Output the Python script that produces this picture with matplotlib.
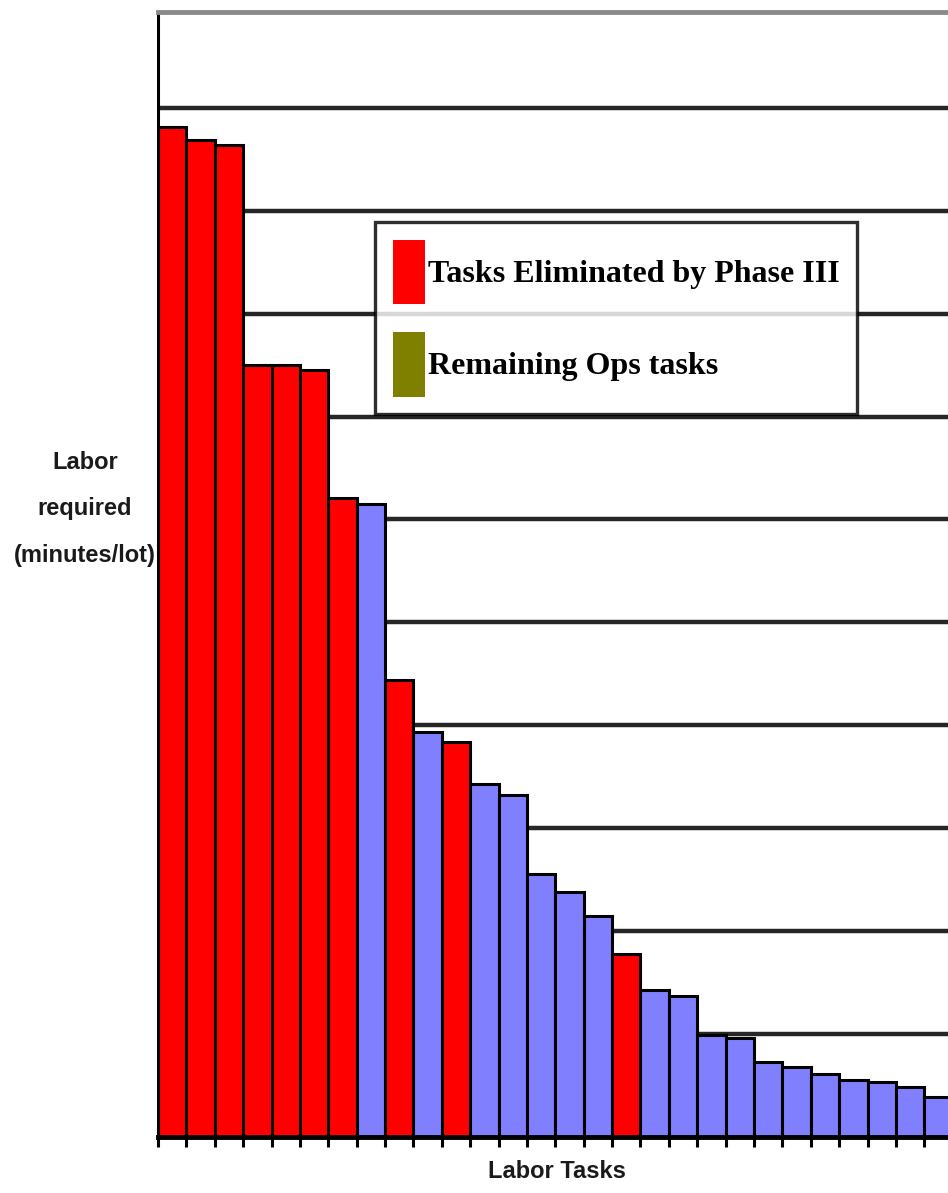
import matplotlib
matplotlib.use("Agg")
import matplotlib.pyplot as plt
import matplotlib.font_manager as fm
from matplotlib.patches import Patch

# labor per task (minutes/lot), sorted high to low
labor_minutes = [9.81, 9.69, 9.64, 7.50, 7.50, 7.45, 6.21, 6.15, 4.44, 3.93,
                 3.84, 3.43, 3.32, 2.56, 2.38, 2.15, 1.78, 1.43, 1.37, 0.99,
                 0.96, 0.73, 0.68, 0.61, 0.55, 0.53, 0.49, 0.39]
# True = task eliminated by Phase III
eliminated = [True, True, True, True, True, True, True, False, True, False,
              True, False, False, False, False, False, True, False, False, False,
              False, False, False, False, False, False, False, False]
legend_labels = ["Tasks Eliminated by Phase III", "Remaining Ops tasks"]
legend_colors = ["#ff0000", "#808000"]

RED = "#ff0000"
BLUE = "#8080ff"

names = {f.name for f in fm.fontManager.ttflist}
if "Liberation Sans Narrow" in names:
    sans = ["Liberation Sans Narrow", "DejaVu Sans"]
    lab_size = 20.5
else:
    sans = ["Liberation Sans", "DejaVu Sans"]
    lab_size = 17

W, H = 948, 1193
fig = plt.figure(figsize=(W / 100, H / 100), dpi=100)

# axes runs past the right edge of the figure
n_slots = 30
ax = fig.add_axes([158 / W, (H - 1137) / H, n_slots * 28.38 / W, (1137 - 12) / H])

x = list(range(len(labor_minutes)))
colors = [RED if e else BLUE for e in eliminated]
ax.bar(x, labor_minutes, width=1.0, align="edge", color=colors,
       edgecolor="black", linewidth=2.2, zorder=2)

ax.set_xlim(0, n_slots)
ax.set_ylim(0, 10.93)
ax.set_yticks(range(0, 11))
ax.set_xticks(range(0, n_slots + 1))
ax.tick_params(axis="y", left=False, labelleft=False)
ax.tick_params(axis="x", direction="out", length=7, width=2.2, color="black",
               labelbottom=False)
ax.set_axisbelow(True)
ax.grid(axis="y", color="#262626", linewidth=3.2)

ax.spines["right"].set_visible(False)
ax.spines["top"].set_color("#8a8a8a")
ax.spines["top"].set_linewidth(3.5)
ax.spines["left"].set_linewidth(2.2)
ax.spines["bottom"].set_linewidth(3.5)

handles = [Patch(facecolor=c, edgecolor="none") for c in legend_colors]
leg = ax.legend(handles, legend_labels, loc="upper left",
                bbox_to_anchor=(375 / W, 1 - 222 / H), bbox_transform=fig.transFigure,
                borderaxespad=0, fancybox=False, framealpha=0.82,
                prop=fm.FontProperties(family="Liberation Serif", weight="bold", size=23),
                handlelength=1.0, handleheight=2.75, handletextpad=0.1,
                labelspacing=0.85, borderpad=0.55)
leg.get_frame().set_edgecolor("black")
leg.get_frame().set_linewidth(2.4)

fig.text(85 / W, 1 - 509 / H, "Labor\nrequired\n(minutes/lot)", ha="center",
         va="center", family=sans, weight="bold", size=lab_size, linespacing=2.3,
         color="#1a1a1a")
fig.text(557 / W, 1 - 1171 / H, "Labor Tasks", ha="center", va="center",
         family=sans, weight="bold", size=lab_size, color="#1a1a1a")

fig.savefig("out.png", dpi=100)
